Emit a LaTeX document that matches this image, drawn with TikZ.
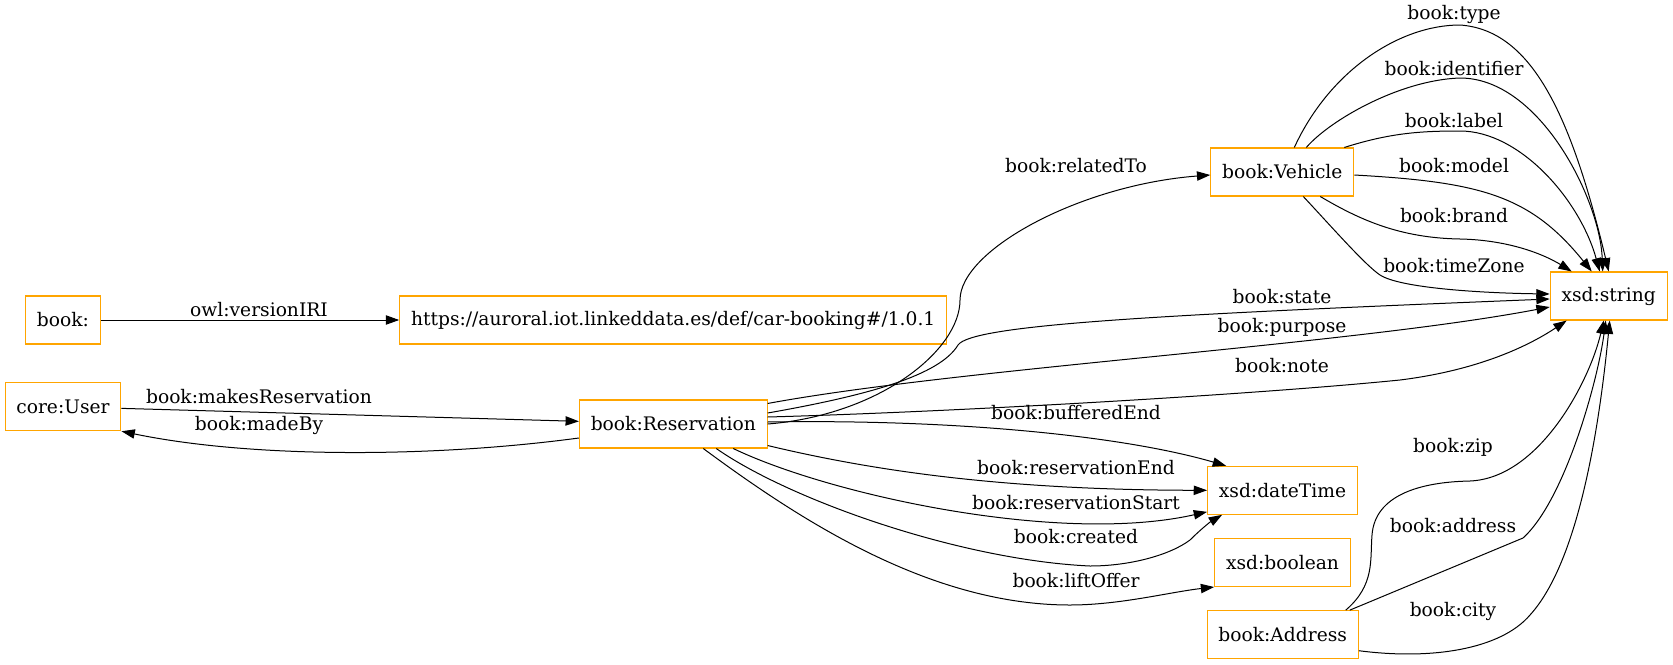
\documentclass[tikz,border=0pt]{standalone}
\usepackage{fontspec}
\setmainfont{DejaVu Serif}
\usepackage{xcolor}
\usetikzlibrary{arrows.meta, calc}
\definecolor{boxorange}{HTML}{FFA500}

\begin{document}
\begin{tikzpicture}[x=0.75pt, y=-0.75pt,
        font=\fontsize{14}{16}\selectfont,
        cls/.style={draw=boxorange, line width=0.8pt, minimum height=36pt, inner xsep=8.5pt, inner ysep=0pt},
        lbl/.style={inner sep=0pt},
        edge/.style={-{Triangle[length=10pt,width=7pt]}, line width=0.75pt}]
        \useasboundingbox (0,0) rectangle (1673,664);

        \node[cls] (bk) at (63,320) {book:};
        \node[cls] (iri) at (673.2,320) {https://auroral.iot.linkeddata.es/def/car-booking\#/1.0.1};
        \node[cls] (usr) at (63,406.7) {core:User};
        \node[cls] (res) at (673.3,424) {book:Reservation};
        \node[cls] (veh) at (1282.3,172) {book:Vehicle};
        \node[cls] (str) at (1608.7,296) {xsd:string};
        \node[cls] (dt) at (1282.5,490.3) {xsd:dateTime};
        \node[cls] (bool) at (1282.5,562.5) {xsd:boolean};
        \node[cls] (adr) at (1282.7,634.7) {book:Address};

        \node[lbl] (L_versionIRI) at (259,310) {owl:versionIRI};
        \node[lbl] (L_makes) at (259,397) {book:makesReservation};
        \node[lbl] (L_madeBy) at (259,425) {book:madeBy};
        \node[lbl] (L_relatedTo) at (1076,166) {book:relatedTo};
        \node[lbl] (L_type) at (1454,14) {book:type};
        \node[lbl] (L_identifier) at (1454,69) {book:identifier};
        \node[lbl] (L_label) at (1454,121) {book:label};
        \node[lbl] (L_model) at (1454,166) {book:model};
        \node[lbl] (L_brand) at (1454,216) {book:brand};
        \node[lbl] (L_timeZone) at (1454,266) {book:timeZone};
        \node[lbl] (L_state) at (1282,297) {book:state};
        \node[lbl] (L_purpose) at (1282,327) {book:purpose};
        \node[lbl] (L_note) at (1282,366) {book:note};
        \node[lbl] (L_bufferedEnd) at (1076,413) {book:bufferedEnd};
        \node[lbl] (L_resEnd) at (1076,468) {book:reservationEnd};
        \node[lbl] (L_resStart) at (1076,503) {book:reservationStart};
        \node[lbl] (L_created) at (1076,537) {book:created};
        \node[lbl] (L_liftOffer) at (1076,581) {book:liftOffer};
        \node[lbl] (L_zip) at (1453,447) {book:zip};
        \node[lbl] (L_address) at (1453,526) {book:address};
        \node[lbl] (L_city) at (1453,611) {book:city};

        \draw[edge] (bk) -- (iri);
        \draw[edge] (usr) -- (res);
        \draw[edge] ($(res.west)+(0,14)$) .. controls (430,458) and (250,458) .. (usr.south east);

        \draw[edge] (res.east) .. controls (880,415) and (960,350) .. (960,300) .. controls (960,250) and (1080,185) .. ($(veh.west)+(0,3)$);
        \draw[edge] ($(res.east)+(0,-11)$) .. controls (870,395) and (940,375) .. (958,345) .. controls (972,325) and (1150,315) .. ($(str.west)+(0,3)$);
        \draw[edge] ($(res.north east)+(0,4)$) .. controls (960,368) and (1350,345) .. ($(str.west)+(0,11)$);
        \draw[edge] ($(res.east)+(0,-7)$) .. controls (950,412) and (1250,395) .. (1400,380) .. controls (1480,370) and (1530,345) .. ($(str.south west)+(17,0)$);
        \draw[edge] ($(res.east)+(0,-2)$) .. controls (950,419) and (1120,435) .. ($(dt.north west)+(19,0)$);
        \draw[edge] ($(res.south east)+(0,-3)$) .. controls (870,470) and (1000,490) .. (dt.west);
        \draw[edge] ($(res.south)+(60,0)$) .. controls (830,495) and (1060,545) .. ($(dt.south west)+(0,-3)$);
        \draw[edge] ($(res.south)+(43,0)$) .. controls (790,500) and (960,560) .. (1090,566) .. controls (1130,566) and (1170,555) .. (1190,540) .. controls (1200,530) and (1210,522) .. ($(dt.south west)+(15,0)$);
        \draw[edge] ($(res.south)+(30,0)$) .. controls (800,520) and (930,605) .. (1070,605) .. controls (1120,605) and (1170,592) .. (bool.south west);

        \draw[edge] ($(veh.north)+(12,0)$) .. controls (1330,70) and (1400,25) .. (1460,25) .. controls (1530,30) and (1570,110) .. (str.north);
        \draw[edge] ($(veh.north)+(24,0)$) .. controls (1330,120) and (1400,80) .. (1460,78) .. controls (1540,78) and (1600,200) .. ($(str.north)+(-6,0)$);
        \draw[edge] ($(veh.north)+(62,0)$) .. controls (1390,133) and (1420,131) .. (1460,131) .. controls (1520,131) and (1580,200) .. ($(str.north)+(-9,0)$);
        \draw[edge] ($(veh.east)+(0,3)$) .. controls (1480,182) and (1530,195) .. ($(str.north)+(-17,0)$);
        \draw[edge] ($(veh.south)+(38,0)$) .. controls (1360,220) and (1400,238) .. (1460,239) .. controls (1510,240) and (1545,255) .. ($(str.north)+(-37,0)$);
        \draw[edge] ($(veh.south)+(21,0)$) .. controls (1330,225) and (1365,265) .. (1380,275) .. controls (1400,288) and (1480,293) .. ($(str.west)+(0,-2)$);

        \draw[edge] ($(adr.north)+(63,0)$) .. controls (1375,585) and (1370,560) .. (1372,535) .. controls (1375,495) and (1420,482) .. (1470,481) .. controls (1540,478) and (1590,380) .. ($(str.south)+(-5,0)$);
        \draw[edge] ($(adr.north)+(67,0)$) -- (1523,538) .. controls (1565,500) and (1598,380) .. ($(str.south)+(-3,0)$);
        \draw[edge] ($(adr.east)+(0,16)$) .. controls (1430,660) and (1500,650) .. (1530,615) .. controls (1580,560) and (1600,420) .. ($(str.south)+(1,0)$);
    \end{tikzpicture}
\end{document}
